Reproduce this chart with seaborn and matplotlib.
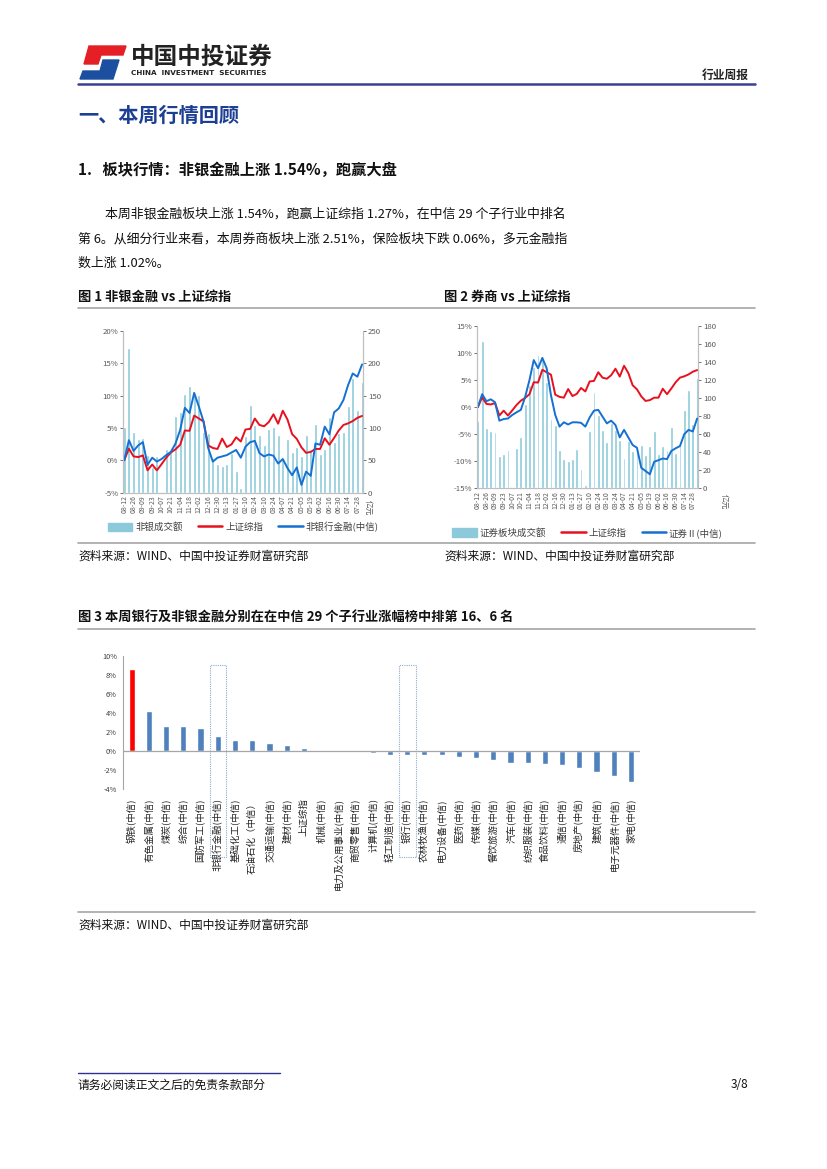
import numpy as np
import pandas as pd
import seaborn as sns
import matplotlib.pyplot as plt
from matplotlib.patches import Polygon, Rectangle, Patch
from matplotlib.lines import Line2D

sns.set_style("white")
plt.rcParams['font.family'] = ['Noto Sans CJK SC', 'DejaVu Sans']
plt.rcParams['axes.unicode_minus'] = False

W, H = 827, 1169

# ---- data ----
weeks = pd.date_range('2013-08-12', periods=52, freq='7D').strftime('%m-%d').tolist()

# 上证综指 weekly cumulative change (%)
sh_idx = [0.0, 1.8, 0.6, 0.5, 0.75, -1.55, -0.65, -1.55, -0.6, 0.4, 1.2, 1.7, 2.4,
          4.6, 4.55, 6.9, 6.45, 6.0, 2.3, 1.9, 1.75, 3.35, 2.05, 2.45, 3.55, 2.9,
          4.75, 4.85, 6.45, 5.45, 5.25, 5.9, 7.1, 5.65, 7.65, 6.3, 4.05, 3.3, 2.0,
          1.15, 1.3, 1.75, 1.75, 3.4, 2.4, 3.45, 4.6, 5.45, 5.7, 6.05, 6.55, 6.85]

# 非银行金融(中信) cumulative change (%) and turnover
nb_idx = [0.0, 3.1, 1.45, 2.3, 2.8, -0.7, 0.4, -0.2, 0.2, 0.8, 1.3, 2.6, 4.7,
          8.1, 7.3, 10.4, 8.3, 6.0, 1.9, -0.2, 0.4, 0.6, 0.8, 1.2, 1.6, 0.4,
          2.1, 2.8, 3.0, 1.1, 0.6, 0.9, 0.7, -0.5, 0.2, -1.2, -2.3, -1.1, -3.8,
          -1.75, -2.4, 2.6, 2.4, 5.2, 4.0, 7.4, 8.0, 9.3, 11.6, 13.4, 12.9, 14.8]
nb_amt = [102, 224, 93, 83, 84, 58, 40, 56, np.nan, 68, 66, 119, 124, 153, 165,
          151, 151, 94, 92, 53, 45, 41, 44, 61, 34, 8, 88, 135, 104, 89, 74, 98,
          102, 89, 53, 83, 63, 71, 57, 89, 66, 106, 60, 68, 117, 79, 92, 94, 134,
          177, 128, 171]

# 证券Ⅱ(中信) cumulative change (%) and turnover
zq_idx = [0.0, 2.4, 1.1, 1.45, 0.9, -2.5, -2.2, -2.1, -1.45, -0.95, -0.5, 1.9,
          5.0, 8.7, 7.2, 9.1, 7.2, 2.2, -1.45, -3.6, -2.8, -3.2, -2.8, -2.8, -2.9,
          -3.6, -1.9, -0.65, -0.5, -1.75, -3.0, -2.5, -3.3, -5.6, -4.2, -5.6,
          -7.0, -7.5, -11.2, -11.8, -12.4, -10.1, -9.8, -9.5, -9.6, -8.1, -7.6,
          -7.2, -5.0, -4.2, -4.5, -2.1]
zq_amt = [75, 163, 67, 64, 62, 36, 38, 43, np.nan, 45, 57, 94, 115, 135, 148, 145,
          118, 77, 70, 43, 33, 30, 33, 44, 21, 4, 64, 107, 81, 65, 51, 72, 65, 54,
          34, 52, 41, 42, 48, 37, 47, 64, 38, 47, 42, 68, 39, 52, 87, 109, 71, 122]

ind_names = ['钢铁(中信)', '有色金属(中信)', '煤炭(中信)', '综合(中信)', '国防军工(中信)',
             '非银行金融(中信)', '基础化工(中信)', '石油石化（中信）', '交通运输(中信)',
             '建材(中信)', '上证综指', '机械(中信)', '电力及公用事业(中信)', '商贸零售(中信)',
             '计算机(中信)', '轻工制造(中信)', '银行(中信)', '农林牧渔(中信)', '电力设备(中信)',
             '医药(中信)', '传媒(中信)', '餐饮旅游(中信)', '汽车(中信)', '纺织服装(中信)',
             '食品饮料(中信)', '通信(中信)', '房地产(中信)', '建筑(中信)', '电子元器件(中信)',
             '家电(中信)']
ind_chg = [8.6, 4.18, 2.65, 2.62, 2.42, 1.54, 1.15, 1.1, 0.77, 0.62, 0.27, 0.04,
           -0.1, -0.15, -0.2, -0.42, -0.46, -0.46, -0.5, -0.62, -0.82, -1.02,
           -1.25, -1.25, -1.42, -1.52, -1.85, -2.26, -2.68, -3.3]

LIGHT = '#8ccadb'
RED = '#e8101e'
BLUE = '#1570d1'
GREY = '#595959'

fig = plt.figure(figsize=(W / 100, H / 100), dpi=100)


def px_rect(l, t, r, b):
    return [l / W, 1 - b / H, (r - l) / W, (b - t) / H]


def txt(x, y, s, **kw):
    kw.setdefault('va', 'center')
    fig.text(x / W, 1 - y / H, s, **kw)


def hline(x0, x1, y, color='#a6a6a6', lw=1.2):
    fig.add_artist(Line2D([x0 / W, x1 / W], [1 - y / H, 1 - y / H], color=color, lw=lw))


def pts(lst):
    return [(x / W, 1 - y / H) for x, y in lst]


# ---- header ----
fig.add_artist(Polygon(pts([(89, 46), (126, 46), (123, 55), (101, 55), (98, 64), (84, 64)]),
                       closed=True, color='#e41f26', transform=fig.transFigure))
fig.add_artist(Polygon(pts([(103, 60), (119, 60), (113, 79), (80, 79), (83, 71), (100, 71)]),
                       closed=True, color='#1d4fa0', transform=fig.transFigure))
txt(131, 57, '中国中投证券', fontsize=17, fontweight='bold', color='#222222')
txt(131, 73, 'CHINA  INVESTMENT  SECURITIES', fontsize=5.2, fontweight='bold', color='#222222',
    family='DejaVu Sans')
txt(749, 75, '行业周报', fontsize=8.5, fontweight='bold', ha='right', color='#222222')
hline(78, 755, 84, color='#3b3f8f', lw=1.8)

txt(78, 115, '一、本周行情回顾', fontsize=14.5, fontweight='bold', color='#1c3f94')
txt(78, 170, '1.   板块行情：非银金融上涨 1.54%，跑赢大盘', fontsize=11, fontweight='bold',
    color='#111111')
txt(105, 214, '本周非银金融板块上涨 1.54%，跑赢上证综指 1.27%，在中信 29 个子行业中排名',
    fontsize=9.3, color='#111111')
txt(78, 239, '第 6。从细分行业来看，本周券商板块上涨 2.51%，保险板块下跌 0.06%，多元金融指',
    fontsize=9.3, color='#111111')
txt(78, 263, '数上涨 1.02%。', fontsize=9.3, color='#111111')

txt(78, 297, '图 1 非银金融 vs 上证综指', fontsize=9.5, fontweight='bold', color='#111111')
txt(444, 297, '图 2 券商 vs 上证综指', fontsize=9.5, fontweight='bold', color='#111111')
hline(78, 755, 308)
hline(78, 755, 543)
txt(78, 556, '资料来源：WIND、中国中投证券财富研究部', fontsize=8.5, color='#111111')
txt(444, 556, '资料来源：WIND、中国中投证券财富研究部', fontsize=8.5, color='#111111')


# ---- figure 1 & 2 ----
def dual_chart(rect, amt, idx, ylim_l, ystep_l, ylim_r, ystep_r, labels, unit_xy, leg_y):
    ax = fig.add_axes(rect)
    axr = ax.twinx()
    df = pd.DataFrame({'week': weeks, 'amt': amt})
    sns.barplot(data=df, x='week', y='amt', ax=axr, color=LIGHT, saturation=1, width=0.66)
    x = np.arange(len(weeks))
    sns.lineplot(x=x, y=sh_idx, ax=ax, color=RED, lw=1.4)
    sns.lineplot(x=x, y=idx, ax=ax, color=BLUE, lw=1.4)
    ax.set_zorder(axr.get_zorder() + 1)
    ax.patch.set_visible(False)
    ax.set_xlim(-0.2, len(weeks) - 0.8)
    ax.set_ylim(*ylim_l)
    axr.set_ylim(*ylim_r)
    yt = np.arange(ylim_l[0], ylim_l[1] + 0.1, ystep_l)
    ax.set_yticks(yt)
    ax.set_yticklabels([f'{int(v)}%' for v in yt])
    axr.set_yticks(np.arange(ylim_r[0], ylim_r[1] + 0.1, ystep_r))
    ax.set_xticks(x[::2])
    ax.set_xticklabels(weeks[::2], rotation=90)
    for a in (ax, axr):
        a.set_xlabel('')
        a.set_ylabel('')
        a.spines['top'].set_visible(False)
        for s in ('left', 'right', 'bottom'):
            a.spines[s].set_color('#bfbfbf')
            a.spines[s].set_linewidth(0.8)
        a.tick_params(labelsize=5.6, colors=GREY, length=2, width=0.6, pad=1.5)
    ax.tick_params(axis='x', labelsize=5.0, length=0, pad=2)
    handles = [Patch(color=LIGHT), Line2D([], [], color=RED, lw=1.8),
               Line2D([], [], color=BLUE, lw=1.8)]
    fig.legend(handles, labels, loc='center', bbox_to_anchor=((rect[0] + rect[2] / 2),
                                                               1 - leg_y / H), ncol=3,
               frameon=False, fontsize=6.8, handlelength=2.6, handleheight=1.0,
               columnspacing=1.6, handletextpad=0.3, labelcolor='#404040')
    txt(unit_xy[0], unit_xy[1], '亿元', fontsize=5.5, rotation=270, color=GREY, ha='center')
    return ax


dual_chart(px_rect(123.3, 330.7, 363, 492.7), nb_amt, nb_idx, (-5, 20), 5, (0, 250), 50,
           ['非银成交额', '上证综指', '非银行金融(中信)'], (368, 508), 527)
dual_chart(px_rect(477, 326, 698, 488.3), zq_amt, zq_idx, (-15, 15), 5, (0, 180), 20,
           ['证券板块成交额', '上证综指', '证券Ⅱ(中信)'], (724, 502), 533)

# ---- figure 3 ----
txt(78, 617, '图 3 本周银行及非银金融分别在在中信 29 个子行业涨幅榜中排第 16、6 名',
    fontsize=9.5, fontweight='bold', color='#111111')
hline(78, 755, 629)

ax3 = fig.add_axes(px_rect(123.1, 655.7, 639.6, 788.7))
colors = ['#ff0000'] + ['#4f81bd'] * (len(ind_names) - 1)
sns.barplot(x=ind_names, y=ind_chg, hue=ind_names, palette=colors, legend=False,
            ax=ax3, saturation=1, width=0.36)
ax3.set_xlim(-0.5, len(ind_names) - 0.5)
ax3.set_ylim(-4, 10)
ax3.set_yticks(np.arange(-4, 10.1, 2))
ax3.set_yticklabels([f'{int(v)}%' for v in np.arange(-4, 10.1, 2)])
ax3.axhline(0, color='#a6a6a6', lw=0.9)
for s in ('top', 'right', 'bottom'):
    ax3.spines[s].set_visible(False)
ax3.spines['left'].set_color('#a6a6a6')
ax3.spines['left'].set_linewidth(0.8)
ax3.tick_params(axis='y', labelsize=5.3, colors='#404040', length=2.5, width=0.6, pad=2)
ax3.tick_params(axis='x', labelsize=6.8, colors='#222222', length=0, pad=7, rotation=90)
ax3.set_xlabel('')
ax3.set_ylabel('')

# dotted boxes around 非银行金融 and 银行
for i in (5, 16):
    y0 = ax3.transData.inverted().transform((0, fig.bbox.height - 857))[1]
    y1 = ax3.transData.inverted().transform((0, fig.bbox.height - 665))[1]
    ax3.add_patch(Rectangle((i - 0.45, y0), 0.95, y1 - y0, fill=False, ls=(0, (1, 1)),
                            ec='#8eaad0', lw=0.8, clip_on=False))

hline(78, 755, 912)
txt(78, 925, '资料来源：WIND、中国中投证券财富研究部', fontsize=8.5, color='#111111')

# ---- footer ----
hline(78, 280, 1073, color='#2e3192', lw=1.0)
txt(78, 1085, '请务必阅读正文之后的免责条款部分', fontsize=8.5, color='#111111')
txt(748, 1085, '3/8', fontsize=8.5, color='#111111', ha='right')

fig.savefig('out.png', dpi=100)
